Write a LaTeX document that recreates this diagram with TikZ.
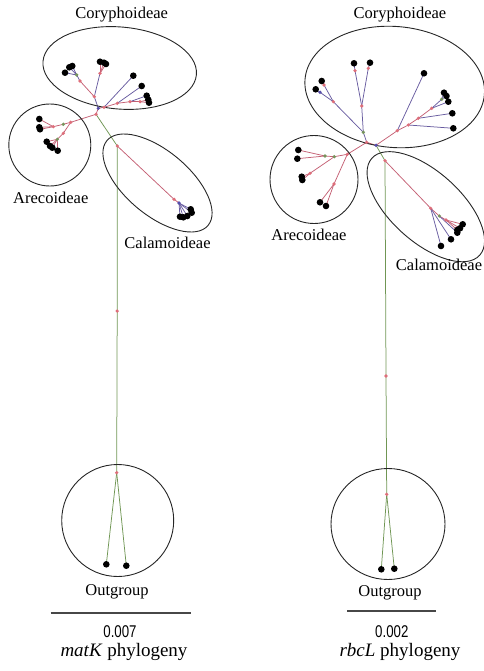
\documentclass[tikz,border=0pt]{standalone}
\usepackage{fontspec}
\setmainfont{Liberation Serif}
\newfontfamily\barfont{Liberation Sans}[FakeStretch=0.78]
\usepackage{tikz}
\usetikzlibrary{shapes.geometric,backgrounds}
\definecolor{brpink}{RGB}{196,96,116}
\definecolor{brblue}{RGB}{104,92,160}
\definecolor{brgreen}{RGB}{112,150,84}
\definecolor{ndpink}{RGB}{222,110,122}
\definecolor{ndgreen}{RGB}{118,148,92}
\definecolor{ndblue}{RGB}{86,78,170}
\tikzset{
  grp/.style     = {draw=black!85, line width=0.9pt, inner sep=0pt},
  grpell/.style  = {grp, ellipse},
  grpcirc/.style = {grp, circle},
  tip/.style     = {circle, fill=black, inner sep=0pt, minimum size=6.6pt},
  nd/.style      = {circle, fill=ndpink, inner sep=0pt, minimum size=3.6pt},
  ndg/.style     = {nd, fill=ndgreen},
  ndb/.style     = {nd, fill=ndblue},
  pk/.style      = {brpink, line width=0.75pt},
  bl/.style      = {brblue, line width=0.75pt},
  gn/.style      = {brgreen, line width=0.75pt},
  clade/.style   = {font=\fontsize{16.5}{18}\selectfont},
  capt/.style    = {inner sep=0pt, font=\fontsize{19}{22}\selectfont},
  barnum/.style  = {inner sep=0pt, font=\barfont\fontsize{17}{18}\selectfont},
  scalebar/.style= {draw=black!72, line width=2pt}
}

\begin{document}
\begin{tikzpicture}[x=1pt, y=-1pt]
  \useasboundingbox (0,0) rectangle (483,671);

  % matK tree
  \node[grpell, minimum width=154pt, minimum height=82pt, rotate=-5] (lcory) at (119.7,68) {};
  \node[grpcirc, minimum size=82pt] (lare) at (49.8,145) {};
  \node[grpell, minimum width=132pt, minimum height=64pt, rotate=-40] (lcala) at (157.5,183) {};
  \node[grpcirc, minimum size=112pt] (lout) at (117.7,520.5) {};

  \foreach \n/\s/\x/\y in {lroot/nd/96/114.3, lcj/ndb/98.3/108.3, la/nd/94.3/96.7,
      la1/nd/80/81, la2/ndg/76.7/75, lb/nd/100/73.3, lc/nd/104/107.3,
      ld/nd/117.3/103.3, le/nd/130/101.7, lf/nd/140/101.7, lar/nd/70.7/122.3,
      lar1/ndg/63.3/124.3, lar2/nd/53.3/126.7, lar3/nd/63.3/133.3,
      lar4/ndg/57.3/139.3, lcal/nd/117.3/146, lcm/nd/174/199.3,
      lcn/ndb/179/203, lmid/nd/117.2/311, lon/nd/116.7/472.7}
    \node[\s] (\n) at (\x,\y) {};

  \foreach \n/\x/\y in {lt1/65/72.7, lt2/69.3/67.3, lt3/72.3/66, lt4/100/61.7,
      lt5/104/62.7, lt6/106/64, lt7/133.3/75.7, lt8/141.7/86, lt9/146.7/95.7,
      lt10/149/102.7, lt11/148.3/99.7, lt12/39.3/119, lt13/39.3/127.3,
      lt14/40/129.3, lt15/46.7/141.7, lt16/50/146, lt17/52.3/147.7,
      lt18/57.7/150.7, lt19/180/216.7, lt20/183.3/217.3, lt21/187.3/216,
      lt22/190.7/209.3, lt23/191.7/212.7, lt24/106.3/564.3, lt25/126.3/565.7}
    \node[tip] (\n) at (\x,\y) {};

  \begin{scope}[on background layer]
    \foreach \a/\b in {lroot/lcj, lroot/lar, lar/lar1, lar1/lar2, lar2/lt12,
        lar2/lt13, lar2/lt14, lar/lar3, lar3/lar4, lar4/lt15, lar4/lt16,
        lar4/lt17, lar4/lt18, lcj/lc, lc/ld, ld/le, le/lf, lf/lt10, lf/lt11,
        la/la1, lb/lt4, lb/lt5, lb/lt6, lcal/lcm, lcm/lcn}
      \draw[pk] (\a.center) -- (\b.center);
    \foreach \a/\b in {lcj/la, la/lb, la1/la2, la2/lt1, la2/lt2, la2/lt3,
        lc/lt7, ld/lt8, le/lt9, lcn/lt19, lcn/lt20, lcn/lt21, lcn/lt22, lcn/lt23}
      \draw[bl] (\a.center) -- (\b.center);
    \foreach \a/\b in {lroot/lcal, lcal/lmid, lmid/lon, lon/lt24, lon/lt25}
      \draw[gn] (\a.center) -- (\b.center);
  \end{scope}

  \node[clade] (lcorytxt) at (121.7,15) {Coryphoideae};
  \node[clade] (laretxt)  at (50.8,198) {Arecoideae};
  \node[clade] (lcalatxt) at (167.5,243) {Calamoideae};
  \node[clade] (louttxt)  at (117,591.5) {Outgroup};
  \coordinate (lbar1) at (50.7,612.7);
  \coordinate (lbar2) at (191,612.7);
  \draw[scalebar] (lbar1) -- (lbar2);
  \node[barnum] (lbartxt) at (120,632) {0.007};
  \node[capt] (lcapt) at (124,652) {\textit{matK} phylogeny};

  % rbcL tree
  \node[grpell, minimum width=180pt, minimum height=121pt, rotate=-5] (rcory) at (394.7,87) {};
  \node[grpcirc, minimum size=88pt] (rare) at (314,179.5) {};
  \node[grpell, minimum width=145pt, minimum height=70pt, rotate=-42] (rcala) at (425.8,206.7) {};
  \node[grpell, minimum width=114pt, minimum height=111pt] (rout) at (388,524) {};

  \foreach \n/\s/\x/\y in {rroot/ndb/376/145.3, rx/nd/366.7/142.3, ry/ndg/363.3/132.3,
      ra/nd/361.7/106, ra1/nd/355/70.7, ra2/nd/368.3/68.3, rb/nd/333.3/101.7,
      rb1/nd/324/85, rb2/ndb/320/92.3, rc/nd/397.3/130.7, rd/nd/408.3/125,
      re/nd/418.3/118.3, rf/nd/431.7/108.3, rg/ndg/441.7/99.3,
      rar/nd/347.3/154.3, rar1/ndg/334.3/156.7, rar2/ndg/325/156,
      rar3/nd/310/173.3, rar4/nd/334/184, rcal/nd/385/160.7,
      rcm/nd/430.7/208.3, rcn/ndg/439.3/216, rco/nd/446/220,
      rmid/nd/386/376, ron/nd/386.7/494.3}
    \node[\s] (\n) at (\x,\y) {};

  \foreach \n/\x/\y in {rt1/354/63.3, rt2/370/62.7, rt3/321.7/81, rt4/315.7/89.3,
      rt5/424/73.3, rt6/453.3/128.3, rt7/452.3/113.3, rt8/448.3/101.7,
      rt9/444/92.7, rt10/446.5/96, rt11/298.3/150, rt12/297.3/158.7,
      rt13/301.7/176.7, rt14/302.3/180, rt15/320/202.3, rt16/326/206,
      rt17/462.7/224.3, rt18/460/228.3, rt19/457.3/230, rt20/457.3/232.7,
      rt21/451/239.3, rt22/441/246, rt23/381.3/569.3, rt24/394.3/568.7}
    \node[tip] (\n) at (\x,\y) {};

  \begin{scope}[on background layer]
    \foreach \a/\b in {rx/rroot, rx/rar, rar/rar1, rar1/rar2, rar2/rt11,
        rar2/rt12, rar1/rar3, rar3/rt13, rar3/rt14, rar/rar4, rar4/rt15,
        rar4/rt16, rcal/rcm, rcm/rcn, rcn/rco, rco/rt17, rco/rt18, rco/rt19,
        rroot/rc, rc/rd, rd/re, re/rf}
      \draw[pk] (\a.center) -- (\b.center);
    \foreach \a/\b in {rx/ry, ry/ra, ra/ra1, ra/ra2, ra1/rt1, ra2/rt2, ry/rb,
        rb/rb1, rb/rb2, rb1/rt3, rb2/rt4, rc/rt5, rd/rt6, re/rt7, rf/rg,
        rf/rt8, rg/rt9, rg/rt10, rcn/rt20, rcm/rt21, rcm/rt22}
      \draw[bl] (\a.center) -- (\b.center);
    \foreach \a/\b in {rroot/rcal, rcal/rmid, rmid/ron, ron/rt23, ron/rt24}
      \draw[gn] (\a.center) -- (\b.center);
  \end{scope}

  \node[clade] (rcorytxt) at (400,15) {Coryphoideae};
  \node[clade] (raretxt)  at (309,235) {Arecoideae};
  \node[clade] (rcalatxt) at (439,265) {Calamoideae};
  \node[clade] (routtxt)  at (390,593.3) {Outgroup};
  \coordinate (rbar1) at (347.3,610.7);
  \coordinate (rbar2) at (436,610.7);
  \draw[scalebar] (rbar1) -- (rbar2);
  \node[barnum] (rbartxt) at (391.8,632) {0.002};
  \node[capt] (rcapt) at (400,652) {\textit{rbcL} phylogeny};
\end{tikzpicture}
\end{document}
